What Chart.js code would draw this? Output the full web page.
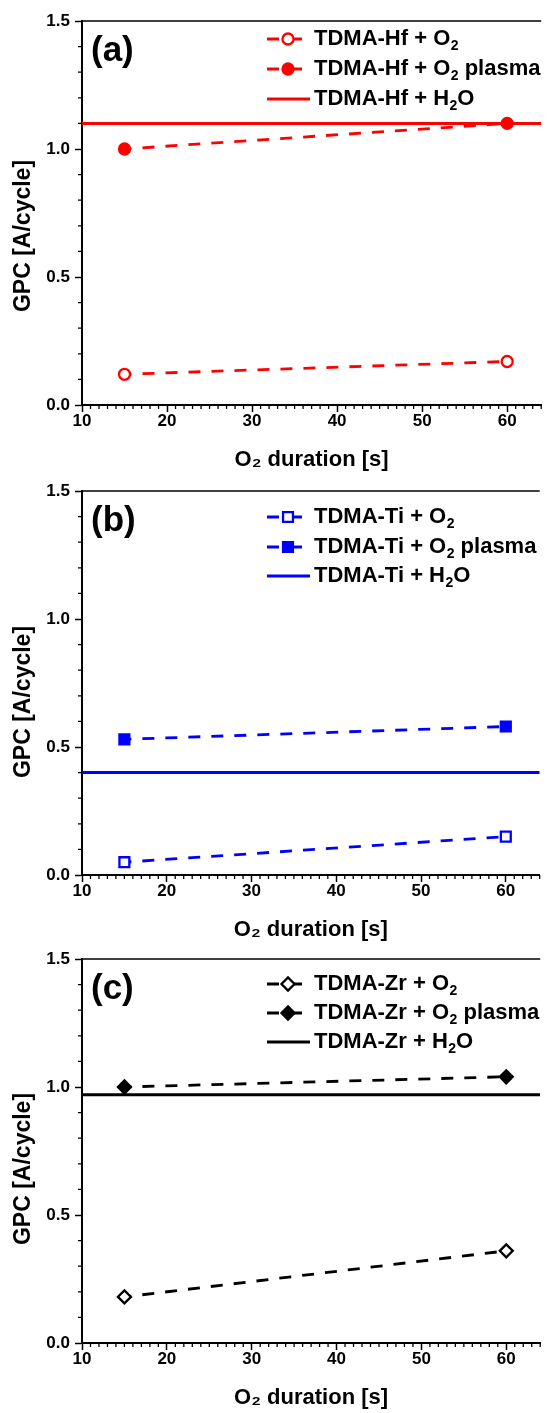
<!DOCTYPE html>
<html><head><meta charset="utf-8">
<script src="https://cdn.jsdelivr.net/npm/chart.js@4.4.1/dist/chart.umd.min.js"></script>
<style>
html,body{margin:0;padding:0;background:#fff;}
#wrap{position:relative;width:549px;height:1413px;overflow:hidden;background:#fff;}
canvas{position:absolute;left:0;}
</style></head><body>
<div id="wrap">
<canvas id="ca" width="549" height="475" style="top:0px;width:549px;height:475px"></canvas>
<canvas id="cb" width="549" height="475" style="top:470px;width:549px;height:475px"></canvas>
<canvas id="cc" width="549" height="475" style="top:938px;width:549px;height:475px"></canvas>
</div>
<script>
// ---- data ----
const durations = [15, 60];
const hfO2 = [0.12, 0.17];
const hfPlasma = [1.00, 1.10];
const hfH2O = 1.10;
const tiO2 = [0.05, 0.15];
const tiPlasma = [0.53, 0.58];
const tiH2O = 0.40;
const zrO2 = [0.18, 0.36];
const zrPlasma = [1.00, 1.04];
const zrH2O = 0.97;
const xRange = [10, 64];
const yRange = [0, 1.5];
const xTickValues = [10, 20, 30, 40, 50, 60];
const xTickLabels = ['10', '20', '30', '40', '50', '60'];
const yTickValues = [0, 0.5, 1.0, 1.5];
const yTickLabels = ['0.0', '0.5', '1.0', '1.5'];
const panelLetters = ['(a)', '(b)', '(c)'];
const hfLabels = ['TDMA-Hf + O_{2}', 'TDMA-Hf + O_{2} plasma', 'TDMA-Hf + H_{2}O'];
const tiLabels = ['TDMA-Ti + O_{2}', 'TDMA-Ti + O_{2} plasma', 'TDMA-Ti + H_{2}O'];
const zrLabels = ['TDMA-Zr + O_{2}', 'TDMA-Zr + O_{2} plasma', 'TDMA-Zr + H_{2}O'];
const xTitle = 'O\u2082 duration [s]';
const yTitle = 'GPC [A/cycle]';

const FONT = "'Liberation Sans', Arial, Helvetica, sans-serif";
Chart.defaults.font.family = FONT;
Chart.defaults.color = '#000';

function plainLabel(s) { return s.replace(/_\{2\}/g, '\u2082'); }

function drawRich(ctx, text, x, y, size) {
  const parts = text.split(/(_\{[^}]*\})/);
  let cx = x;
  ctx.fillStyle = '#000';
  ctx.textAlign = 'left';
  ctx.textBaseline = 'middle';
  for (const p of parts) {
    if (!p) continue;
    const m = p.match(/^_\{(.*)\}$/);
    if (m) {
      ctx.font = 'bold ' + Math.round(size * 0.64) + 'px ' + FONT;
      ctx.fillText(m[1], cx + 0.5, y + size * 0.33);
      cx += ctx.measureText(m[1]).width + 0.5;
    } else {
      ctx.font = 'bold ' + size + 'px ' + FONT;
      ctx.fillText(p, cx, y);
      cx += ctx.measureText(p).width;
    }
  }
}

const decorPlugin = {
  id: 'decor',
  afterDraw(chart, args, opts) {
    const {ctx, chartArea: ca, scales: {x, y}} = chart;
    ctx.save();
    // top frame line
    ctx.strokeStyle = '#000';
    ctx.lineWidth = 1.5;
    ctx.beginPath();
    ctx.moveTo(ca.left, ca.top);
    ctx.lineTo(ca.right, ca.top);
    ctx.stroke();
    // minor ticks
    ctx.lineWidth = 1.3;
    ctx.beginPath();
    for (let v = Math.ceil(x.min); v <= x.max; v += 1) {
      if (v % 10 === 0) continue;
      const px = x.getPixelForValue(v);
      ctx.moveTo(px, ca.bottom);
      ctx.lineTo(px, ca.bottom + 4);
    }
    for (let i = 0; i <= 15; i++) {
      if (i % 5 === 0) continue;
      const py = y.getPixelForValue(i / 10);
      ctx.moveTo(ca.left, py);
      ctx.lineTo(ca.left - 4, py);
    }
    ctx.stroke();
    // panel letter
    ctx.fillStyle = '#000';
    ctx.font = 'bold 35px ' + FONT;
    ctx.textAlign = 'left';
    ctx.textBaseline = 'middle';
    ctx.fillText(opts.letter, 91, ca.top + 30);
    // y title
    ctx.save();
    ctx.translate(24, (ca.top + ca.bottom) / 2 + opts.yTitleShift);
    ctx.rotate(-Math.PI / 2);
    ctx.font = 'bold 23px ' + FONT;
    ctx.textAlign = 'center';
    ctx.textBaseline = 'middle';
    ctx.fillText(yTitle, 0, 0);
    ctx.restore();
    // legend
    const x0 = 267, xm = 288, xt = 314;
    const rows = opts.rows;
    chart.data.datasets.forEach((ds, i) => {
      const yy = ca.top + rows[i];
      ctx.save();
      ctx.strokeStyle = ds.borderColor;
      ctx.lineWidth = ds.borderWidth;
      ctx.setLineDash(ds.borderDash || []);
      ctx.beginPath();
      ctx.moveTo(x0, yy);
      ctx.lineTo(ds.borderDash ? 302 : 310, yy);
      ctx.stroke();
      ctx.setLineDash([]);
      if (ds.pointRadius > 0) {
        ctx.fillStyle = ds.pointBackgroundColor;
        ctx.strokeStyle = ds.pointBorderColor;
        ctx.lineWidth = ds.pointBorderWidth;
        Chart.helpers.drawPoint(ctx, {pointStyle: ds.pointStyle, radius: ds.pointRadius, rotation: 0, borderWidth: ds.pointBorderWidth}, xm, yy);
      }
      ctx.restore();
      drawRich(ctx, ds.richLabel, xt, yy, 22);
    });
    ctx.restore();
  }
};

function makePanel(canvasId, color, style, radius, o2, plasma, h2o, labels, letter, shift, rows) {
  const mk = (vals) => durations.map((d, i) => ({x: d, y: vals[i]}));
  const common = {
    borderColor: color, borderWidth: 2.8, borderDash: [12, 11], borderDashOffset: 5,
    pointStyle: style, pointRadius: radius, pointHoverRadius: radius,
    pointBorderColor: color, pointBorderWidth: 2.3, showLine: true, fill: false, tension: 0
  };
  const datasets = [
    Object.assign({}, common, {label: plainLabel(labels[0]), richLabel: labels[0], data: mk(o2), pointBackgroundColor: '#fff'}),
    Object.assign({}, common, {label: plainLabel(labels[1]), richLabel: labels[1], data: mk(plasma), pointBackgroundColor: color}),
    {label: plainLabel(labels[2]), richLabel: labels[2], data: xRange.map(v => ({x: v, y: h2o})),
     borderColor: color, borderWidth: 3, pointRadius: 0, pointHoverRadius: 0, fill: false}
  ];
  return new Chart(document.getElementById(canvasId), {
    type: 'line',
    data: {datasets},
    options: {
      responsive: false, animation: false, devicePixelRatio: 1,
      layout: {padding: {top: 21, left: 0, right: 0, bottom: 0}},
      plugins: {legend: {display: false}, tooltip: {enabled: false}, decor: {letter, yTitleShift: shift, rows}},
      scales: {
        x: {
          type: 'linear', min: xRange[0], max: xRange[1],
          afterBuildTicks: (s) => { s.ticks = xTickValues.map(v => ({value: v})); },
          afterFit: (s) => { s.height = 70; },
          ticks: {font: {size: 17, weight: 'bold'}, color: '#000', padding: -1, maxRotation: 0,
                  callback: (v) => xTickLabels[xTickValues.indexOf(v)]},
          grid: {display: true, drawOnChartArea: false, drawTicks: true, tickLength: 7, tickWidth: 1.5, tickColor: '#000'},
          border: {display: true, color: '#000', width: 2},
          title: {display: true, text: xTitle, font: {size: 22, weight: 'bold'}, color: '#000', padding: {top: 0, bottom: 2}}
        },
        y: {
          type: 'linear', min: yRange[0], max: yRange[1],
          afterBuildTicks: (s) => { s.ticks = yTickValues.map(v => ({value: v})); },
          afterFit: (s) => { s.width = 82; },
          ticks: {font: {size: 17, weight: 'bold'}, color: '#000', padding: 5,
                  callback: (v) => yTickLabels[yTickValues.indexOf(v)]},
          grid: {display: true, drawOnChartArea: false, drawTicks: true, tickLength: 7, tickWidth: 1.5, tickColor: '#000'},
          border: {display: true, color: '#000', width: 2},
          title: {display: false}
        }
      }
    },
    plugins: [decorPlugin]
  });
}

makePanel('ca', '#FF0000', 'circle', 5.5, hfO2, hfPlasma, hfH2O, hfLabels, panelLetters[0], 23, [18, 48, 78]);
makePanel('cb', '#0000FF', 'rect', 7, tiO2, tiPlasma, tiH2O, tiLabels, panelLetters[1], 19, [26, 56, 85]);
makePanel('cc', '#000000', 'rectRot', 6.5, zrO2, zrPlasma, zrH2O, zrLabels, panelLetters[2], 18, [25, 54, 83]);
</script>
</body></html>
